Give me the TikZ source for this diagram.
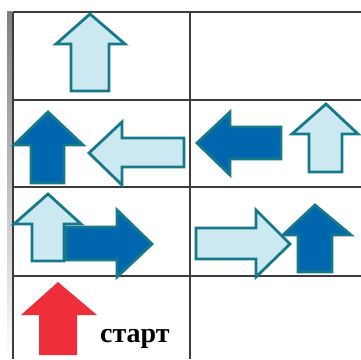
\documentclass[tikz,border=0pt]{standalone}
\usepackage{fontspec}
\setmainfont{Liberation Serif}
\definecolor{lightfill}{HTML}{CCE8F1}
\definecolor{darkfill}{HTML}{0067AE}
\definecolor{edgeteal}{HTML}{16788B}
\definecolor{redfill}{HTML}{EE2E3B}
\definecolor{gridgray}{HTML}{3C3C3C}
\definecolor{shade}{HTML}{F2EEEA}
\tikzset{
  lightarr/.style={fill=lightfill,draw=edgeteal,line width=2.8pt,line join=miter},
  darkarr/.style={fill=darkfill,draw=edgeteal,line width=2.8pt,line join=miter},
  redarr/.style={fill=redfill},
  gridline/.style={draw=gridgray,line width=1.3pt},
}
\newcommand{\UpArr}[8]{% style, tipx, tipy, wingy, wingl, wingr, shaftl, shaftr ; bottom in \arrbot
  \path[#1] (#2,#3) -- (#6,#4) -- (#8,#4) -- (#8,\arrbot) -- (#7,\arrbot) -- (#7,#4) -- (#5,#4) -- cycle;}
\newcommand{\arrbot}{0}
\begin{document}
\begin{tikzpicture}[x=1pt,y=-1pt]
\useasboundingbox (0,0) rectangle (361,359);
\fill[white] (0,0) rectangle (361,359);
% left shade strip
\fill[shade] (7,11) rectangle (12,359);
% grid
\draw[gridline] (13,12) -- (13,359);
\draw[gridline] (190,12) -- (190,359);
\draw[gridline] (13,12) -- (361,12);
\draw[gridline] (13,100) -- (361,100);
\draw[gridline] (13,187) -- (361,187);
\draw[gridline] (13,276) -- (361,276);
% row 1
\renewcommand{\arrbot}{91}\UpArr{lightarr}{90}{14}{44}{56}{125}{71}{109}
% row 2 col 1
\renewcommand{\arrbot}{183}\UpArr{darkarr}{48}{112}{145}{14}{83}{31}{64}
\path[lightarr] (89,153) -- (122,122) -- (122,138) -- (184,138) -- (184,167) -- (122,167) -- (122,185) -- cycle;
% row 2 col 2
\path[darkarr] (197,143) -- (230,112) -- (230,127) -- (281,127) -- (281,159) -- (230,159) -- (230,175) -- cycle;
\renewcommand{\arrbot}{172}\UpArr{lightarr}{326}{104}{134}{292}{358}{309}{342}
% row 3 col 1
\renewcommand{\arrbot}{261}\UpArr{lightarr}{48}{194}{224}{14}{81}{32}{64}
\path[darkarr] (66,227) -- (117,227) -- (117,210) -- (152,244) -- (117,277) -- (117,260) -- (66,260) -- cycle;
% row 3 col 2
\renewcommand{\arrbot}{272}\UpArr{darkarr}{315}{205}{235}{283}{351}{298}{332}
\path[lightarr] (196,228) -- (256,228) -- (256,210) -- (290,244) -- (256,277) -- (256,259) -- (196,259) -- cycle;
% row 4
\renewcommand{\arrbot}{355}\UpArr{redarr}{58}{282}{315}{21}{97}{39}{77}
\node[anchor=base west,inner sep=0pt,font=\fontsize{28}{30}\selectfont\bfseries] (start) at (100,342) {старт};
\end{tikzpicture}
\end{document}
